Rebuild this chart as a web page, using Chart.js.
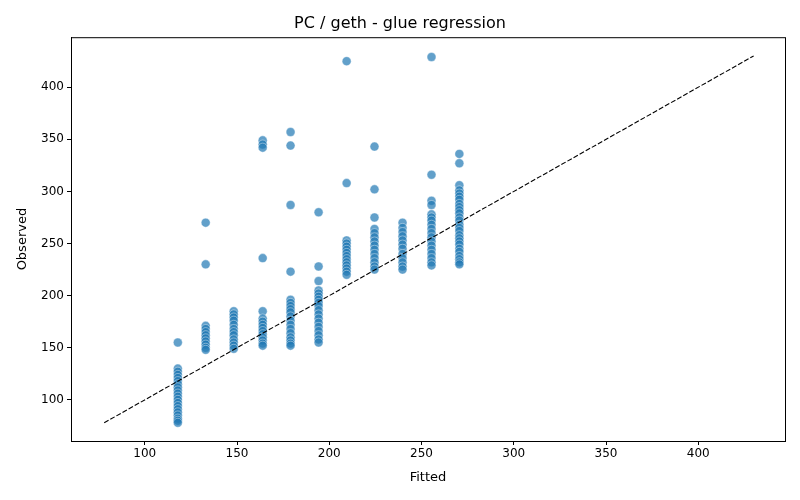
<!DOCTYPE html>
<html>
<head>
<meta charset="utf-8">
<script src="https://cdn.jsdelivr.net/npm/chart.js@4/dist/chart.umd.min.js"></script>
<style>
  html, body { margin: 0; padding: 0; background: #fff; }
  #wrap { width: 800px; height: 500px; }
</style>
</head>
<body>
<div id="wrap"><canvas id="glueChart" width="800" height="500"></canvas></div>
<script>
// Fitted value of each column of points
const fittedLevels = [117.9, 133.0, 148.2, 163.9, 179.0, 194.2, 209.4, 224.5, 239.7, 255.4, 270.5];

const obs118 = [155, 130, 127, 124, 121, 118, 115, 112, 109, 106, 103, 100, 97, 94, 91, 88, 85, 82, 80, 78];
const obs133 = [270, 230, 171, 168, 165, 162, 159, 156, 153, 150, 148];
const obs148 = [185, 182, 179, 176, 172, 168, 165, 162, 158, 155, 152, 149];
const obs164 = [349, 345, 342, 236, 185, 178, 175, 172, 169, 166, 163, 160, 157, 154, 152];
const obs179 = [357, 344, 287, 223, 196, 193, 190, 187, 184, 180, 176, 172, 168, 164, 160, 157, 154, 152];
const obs195 = [280, 228, 214, 205, 202, 199, 196, 193, 190, 186, 182, 178, 174, 170, 166, 162, 158, 155];
const obs210 = [425, 308, 253, 250, 247, 244, 241, 238, 235, 232, 229, 226, 223, 220];
const obs225 = [343, 302, 275, 264, 260, 256, 252, 248, 244, 240, 236, 232, 228, 225];
const obs240 = [270, 265, 261, 257, 253, 249, 245, 240, 236, 232, 228, 225];
const obs256 = [429, 316, 291, 287, 278, 275, 272, 268, 264, 260, 256, 252, 248, 244, 240, 236, 232, 229];
const obs271 = [336, 327, 306, 301, 298, 295, 292, 288, 285, 282, 279, 275, 272, 268, 265, 262, 258, 255, 252, 249, 245, 242, 238, 235, 232, 230];

const observedByLevel = [obs118, obs133, obs148, obs164, obs179, obs195, obs210, obs225, obs240, obs256, obs271];

// Identity line endpoints and axis ticks
const identityLine = [78, 430];
const xTicks = [100, 150, 200, 250, 300, 350, 400];
const yTicks = [100, 150, 200, 250, 300, 350, 400];

document.addEventListener('DOMContentLoaded', function() {
    const ctx = document.getElementById('glueChart').getContext('2d');

    const points = [];
    fittedLevels.forEach((fx, i) => {
        observedByLevel[i].forEach(v => points.push({ x: fx, y: v }));
    });

    // draws the top and right spines
    const frame = {
        id: 'frame',
        afterDraw(chart) {
            const a = chart.chartArea;
            const c = chart.ctx;
            c.save();
            c.strokeStyle = '#000';
            c.lineWidth = 1;
            c.strokeRect(a.left + 0.5, a.top + 0.5, a.right - a.left, a.bottom - a.top);
            c.restore();
        }
    };

    const tickFont = { family: 'DejaVu Sans', size: 12 };

    new Chart(ctx, {
        data: {
            datasets: [
                {
                    type: 'line',
                    data: identityLine.map(v => ({ x: v, y: v })),
                    borderColor: '#000',
                    borderWidth: 1.1,
                    borderDash: [5, 2],
                    pointRadius: 0,
                    fill: false,
                    order: 0
                },
                {
                    type: 'scatter',
                    data: points,
                    backgroundColor: 'rgba(31, 119, 180, 0.7)',
                    borderColor: 'rgba(255, 255, 255, 0.8)',
                    borderWidth: 0.5,
                    pointRadius: 4.5,
                    order: 1
                }
            ]
        },
        options: {
            responsive: false,
            animation: false,
            layout: { padding: { left: 15, right: 15, top: 0, bottom: 15 } },
            plugins: {
                legend: { display: false },
                tooltip: { enabled: false },
                title: {
                    display: true,
                    text: 'PC / geth - glue regression',
                    color: '#000',
                    font: { family: 'DejaVu Sans', size: 16, weight: 'normal' },
                    padding: { top: 14, bottom: 4 }
                }
            },
            scales: {
                x: {
                    type: 'linear',
                    min: 60,
                    max: 447,
                    afterBuildTicks: s => { s.ticks = xTicks.map(v => ({ value: v })); },
                    afterFit: s => { s.height = 44; },
                    ticks: { color: '#000', font: tickFont, padding: 2, maxRotation: 0 },
                    grid: { display: true, drawOnChartArea: false, drawTicks: true, tickLength: 4, color: '#000' },
                    border: { display: true, color: '#000' },
                    title: { display: true, text: 'Fitted', color: '#000', font: { family: 'DejaVu Sans', size: 13 }, padding: { top: 4, bottom: 0 } }
                },
                y: {
                    type: 'linear',
                    min: 60.5,
                    max: 448,
                    afterBuildTicks: s => { s.ticks = yTicks.map(v => ({ value: v })); },
                    afterFit: s => { s.width = 56; },
                    ticks: { color: '#000', font: tickFont, padding: 3 },
                    grid: { display: true, drawOnChartArea: false, drawTicks: true, tickLength: 4, color: '#000' },
                    border: { display: true, color: '#000' },
                    title: { display: true, text: 'Observed', color: '#000', font: { family: 'DejaVu Sans', size: 13 }, padding: { top: 0, bottom: 4 } }
                }
            }
        },
        plugins: [frame]
    });
});
</script>
</body>
</html>
